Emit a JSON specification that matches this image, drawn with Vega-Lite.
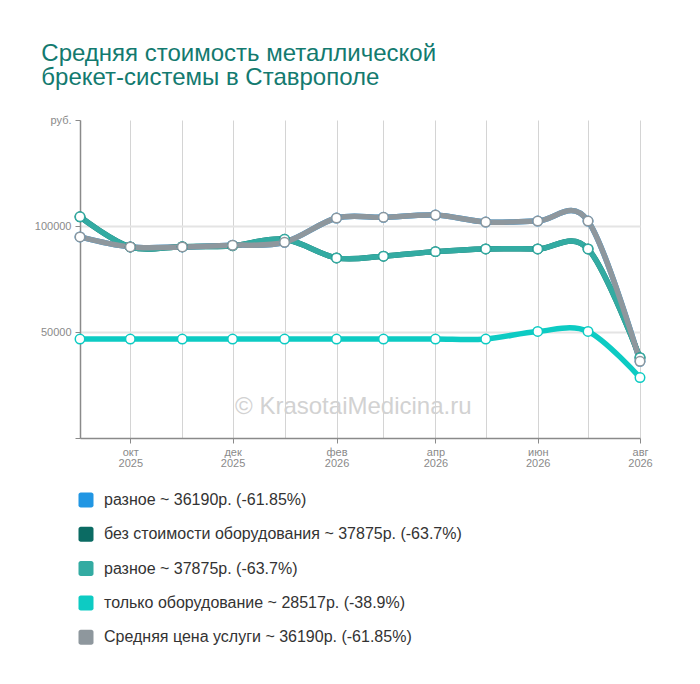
{
  "$schema": "https://vega.github.io/schema/vega-lite/v6.json",
  "width": 560,
  "height": 318,
  "autosize": "none",
  "padding": {"left": 80, "top": 120, "right": 60, "bottom": 246},
  "background": "white",
  "title": {
    "text": ["Средняя стоимость металлической", "брекет-системы в Ставрополе"],
    "anchor": "start",
    "dx": 7,
    "offset": 24,
    "font": "Liberation Sans",
    "fontSize": 24,
    "fontWeight": "normal",
    "lineHeight": 24,
    "color": "#137a6f"
  },
  "data": {
    "values": [
      {"date": "2025-09-01", "name": "разное ~ 36190р. (-61.85%)", "price": 94862},
      {"date": "2025-10-01", "name": "разное ~ 36190р. (-61.85%)", "price": 90122},
      {"date": "2025-11-01", "name": "разное ~ 36190р. (-61.85%)", "price": 90150},
      {"date": "2025-12-01", "name": "разное ~ 36190р. (-61.85%)", "price": 90920},
      {"date": "2026-01-01", "name": "разное ~ 36190р. (-61.85%)", "price": 92333},
      {"date": "2026-02-01", "name": "разное ~ 36190р. (-61.85%)", "price": 103763},
      {"date": "2026-03-01", "name": "разное ~ 36190р. (-61.85%)", "price": 104092},
      {"date": "2026-04-01", "name": "разное ~ 36190р. (-61.85%)", "price": 105174},
      {"date": "2026-05-01", "name": "разное ~ 36190р. (-61.85%)", "price": 101882},
      {"date": "2026-06-01", "name": "разное ~ 36190р. (-61.85%)", "price": 102352},
      {"date": "2026-07-01", "name": "разное ~ 36190р. (-61.85%)", "price": 102352},
      {"date": "2026-08-01", "name": "разное ~ 36190р. (-61.85%)", "price": 36190},
      {"date": "2025-09-01", "name": "без стоимости оборудования ~ 37875р. (-63.7%)", "price": 104339},
      {"date": "2025-10-01", "name": "без стоимости оборудования ~ 37875р. (-63.7%)", "price": 90122},
      {"date": "2025-11-01", "name": "без стоимости оборудования ~ 37875р. (-63.7%)", "price": 90263},
      {"date": "2025-12-01", "name": "без стоимости оборудования ~ 37875р. (-63.7%)", "price": 90733},
      {"date": "2026-01-01", "name": "без стоимости оборудования ~ 37875р. (-63.7%)", "price": 93744},
      {"date": "2026-02-01", "name": "без стоимости оборудования ~ 37875р. (-63.7%)", "price": 84948},
      {"date": "2026-03-01", "name": "без стоимости оборудования ~ 37875р. (-63.7%)", "price": 85748},
      {"date": "2026-04-01", "name": "без стоимости оборудования ~ 37875р. (-63.7%)", "price": 87912},
      {"date": "2026-05-01", "name": "без стоимости оборудования ~ 37875р. (-63.7%)", "price": 89182},
      {"date": "2026-06-01", "name": "без стоимости оборудования ~ 37875р. (-63.7%)", "price": 89182},
      {"date": "2026-07-01", "name": "без стоимости оборудования ~ 37875р. (-63.7%)", "price": 89182},
      {"date": "2026-08-01", "name": "без стоимости оборудования ~ 37875р. (-63.7%)", "price": 37875},
      {"date": "2025-09-01", "name": "разное ~ 37875р. (-63.7%)", "price": 104339},
      {"date": "2025-10-01", "name": "разное ~ 37875р. (-63.7%)", "price": 90122},
      {"date": "2025-11-01", "name": "разное ~ 37875р. (-63.7%)", "price": 90263},
      {"date": "2025-12-01", "name": "разное ~ 37875р. (-63.7%)", "price": 90733},
      {"date": "2026-01-01", "name": "разное ~ 37875р. (-63.7%)", "price": 93744},
      {"date": "2026-02-01", "name": "разное ~ 37875р. (-63.7%)", "price": 84948},
      {"date": "2026-03-01", "name": "разное ~ 37875р. (-63.7%)", "price": 85748},
      {"date": "2026-04-01", "name": "разное ~ 37875р. (-63.7%)", "price": 87912},
      {"date": "2026-05-01", "name": "разное ~ 37875р. (-63.7%)", "price": 89182},
      {"date": "2026-06-01", "name": "разное ~ 37875р. (-63.7%)", "price": 89182},
      {"date": "2026-07-01", "name": "разное ~ 37875р. (-63.7%)", "price": 89182},
      {"date": "2026-08-01", "name": "разное ~ 37875р. (-63.7%)", "price": 37875},
      {"date": "2025-09-01", "name": "только оборудование ~ 28517р. (-38.9%)", "price": 46673},
      {"date": "2025-10-01", "name": "только оборудование ~ 28517р. (-38.9%)", "price": 46673},
      {"date": "2025-11-01", "name": "только оборудование ~ 28517р. (-38.9%)", "price": 46673},
      {"date": "2025-12-01", "name": "только оборудование ~ 28517р. (-38.9%)", "price": 46673},
      {"date": "2026-01-01", "name": "только оборудование ~ 28517р. (-38.9%)", "price": 46673},
      {"date": "2026-02-01", "name": "только оборудование ~ 28517р. (-38.9%)", "price": 46673},
      {"date": "2026-03-01", "name": "только оборудование ~ 28517р. (-38.9%)", "price": 46673},
      {"date": "2026-04-01", "name": "только оборудование ~ 28517р. (-38.9%)", "price": 46673},
      {"date": "2026-05-01", "name": "только оборудование ~ 28517р. (-38.9%)", "price": 46673},
      {"date": "2026-06-01", "name": "только оборудование ~ 28517р. (-38.9%)", "price": 50282},
      {"date": "2026-07-01", "name": "только оборудование ~ 28517р. (-38.9%)", "price": 50282},
      {"date": "2026-08-01", "name": "только оборудование ~ 28517р. (-38.9%)", "price": 28517},
      {"date": "2025-09-01", "name": "Средняя цена услуги ~ 36190р. (-61.85%)", "price": 94862},
      {"date": "2025-10-01", "name": "Средняя цена услуги ~ 36190р. (-61.85%)", "price": 90122},
      {"date": "2025-11-01", "name": "Средняя цена услуги ~ 36190р. (-61.85%)", "price": 90150},
      {"date": "2025-12-01", "name": "Средняя цена услуги ~ 36190р. (-61.85%)", "price": 90920},
      {"date": "2026-01-01", "name": "Средняя цена услуги ~ 36190р. (-61.85%)", "price": 92333},
      {"date": "2026-02-01", "name": "Средняя цена услуги ~ 36190р. (-61.85%)", "price": 103763},
      {"date": "2026-03-01", "name": "Средняя цена услуги ~ 36190р. (-61.85%)", "price": 104092},
      {"date": "2026-04-01", "name": "Средняя цена услуги ~ 36190р. (-61.85%)", "price": 105174},
      {"date": "2026-05-01", "name": "Средняя цена услуги ~ 36190р. (-61.85%)", "price": 101882},
      {"date": "2026-06-01", "name": "Средняя цена услуги ~ 36190р. (-61.85%)", "price": 102352},
      {"date": "2026-07-01", "name": "Средняя цена услуги ~ 36190р. (-61.85%)", "price": 102352},
      {"date": "2026-08-01", "name": "Средняя цена услуги ~ 36190р. (-61.85%)", "price": 36190}
    ]
  },
  "encoding": {
    "x": {
      "field": "date",
      "type": "temporal",
      "scale": {"type": "utc", "domain": [{"year": 2025, "month": 9, "date": 1, "utc": true}, {"year": 2026, "month": 8, "date": 1, "utc": true}], "nice": false},
      "axis": {
        "title": null,
        "tickCount": {"interval": "month", "step": 1},
        "labelExpr": "utcmonth(datum.value) % 2 == 1 ? [['янв','фев','мар','апр','май','июн','июл','авг','сен','окт','ноя','дек'][utcmonth(datum.value)], '' + utcyear(datum.value)] : ''",
        "labelFont": "Liberation Sans",
        "labelFontSize": 11,
        "labelColor": "#8a8a8a",
        "labelLineHeight": 11,
        "labelPadding": 3,
        "labelFlush": false,
        "labelOverlap": false,
        "domainColor": "#8a8a8a",
        "domainWidth": 1.5,
        "tickColor": "#8a8a8a",
        "tickSize": 5,
        "tickOpacity": {"condition": {"test": "utcmonth(datum.value) % 2 == 1", "value": 1}, "value": 0},
        "gridColor": "#d4d4d4",
        "gridWidth": 1
      }
    },
    "y": {
      "field": "price",
      "type": "quantitative",
      "scale": {"domain": [0, 150000], "nice": false},
      "axis": {
        "title": null,
        "values": [0, 50000, 100000, 150000],
        "labelExpr": "datum.value == 150000 ? 'руб.' : datum.value == 0 ? '' : '' + datum.value",
        "labelFont": "Liberation Sans",
        "labelFontSize": 11,
        "labelColor": "#8a8a8a",
        "labelPadding": 4,
        "domainColor": "#8a8a8a",
        "domainWidth": 1.5,
        "tickColor": "#8a8a8a",
        "tickSize": 5,
        "gridColor": "#e4e4e4",
        "gridWidth": 2,
        "gridOpacity": {"condition": {"test": "datum.value == 0 || datum.value == 150000", "value": 0}, "value": 1}
      }
    }
  },
  "layer": [
    {
      "transform": [{"filter": "datum.name == 'Средняя цена услуги ~ 36190р. (-61.85%)' && datum.price == 36190"}],
      "mark": {"type": "text", "font": "Liberation Sans", "fontSize": 24, "color": "#d2d2d2", "align": "center", "baseline": "middle"},
      "encoding": {
        "x": {"datum": {"year": 2026, "month": 2, "date": 11, "utc": true}, "type": "temporal"},
        "y": {"datum": 14400, "type": "quantitative"},
        "text": {"value": "© KrasotaiMedicina.ru"}
      }
    },
    {
      "mark": {"type": "line", "interpolate": "cardinal", "strokeWidth": 5.5, "strokeCap": "round"},
      "encoding": {
        "color": {
          "field": "name",
          "type": "nominal",
          "scale": {
            "domain": [
              "разное ~ 36190р. (-61.85%)",
              "без стоимости оборудования ~ 37875р. (-63.7%)",
              "разное ~ 37875р. (-63.7%)",
              "только оборудование ~ 28517р. (-38.9%)",
              "Средняя цена услуги ~ 36190р. (-61.85%)"
            ],
            "range": ["#2196e3", "#0b6b63", "#33aba2", "#0dcbc3", "#8e979d"]
          },
          "legend": {
            "orient": "none",
            "legendX": -2,
            "legendY": 372,
            "direction": "vertical",
            "title": null,
            "symbolType": "M -0.7 -1 L 0.7 -1 A 0.3 0.3 0 0 1 1 -0.7 L 1 0.7 A 0.3 0.3 0 0 1 0.7 1 L -0.7 1 A 0.3 0.3 0 0 1 -1 0.7 L -1 -0.7 A 0.3 0.3 0 0 1 -0.7 -1 Z",
            "symbolSize": 225,
            "symbolStrokeWidth": 0,
            "labelFont": "Liberation Sans",
            "labelFontSize": 16,
            "labelColor": "#333333",
            "labelOffset": 10,
            "labelLimit": 500,
            "rowPadding": 18.3,
            "encode": {
              "symbols": {
                "update": {
                  "fill": {"scale": "color", "field": "value"},
                  "stroke": {"value": "transparent"},
                  "opacity": {"value": 1}
                }
              }
            }
          }
        },
        "order": {"field": "date"}
      }
    },
    {
      "mark": {"type": "point", "filled": true, "fill": "white", "size": 90, "strokeWidth": 1.5, "opacity": 1},
      "encoding": {
        "stroke": {"field": "name", "type": "nominal", "legend": null, "scale": {
            "domain": [
              "разное ~ 36190р. (-61.85%)",
              "без стоимости оборудования ~ 37875р. (-63.7%)",
              "разное ~ 37875р. (-63.7%)",
              "только оборудование ~ 28517р. (-38.9%)",
              "Средняя цена услуги ~ 36190р. (-61.85%)"
            ],
            "range": ["#2196e3", "#0b6b63", "#33aba2", "#0dcbc3", "#8e979d"]
          }}
      }
    }
  ],
  "config": {
    "view": {"stroke": null},
    "font": "Liberation Sans"
  }
}
